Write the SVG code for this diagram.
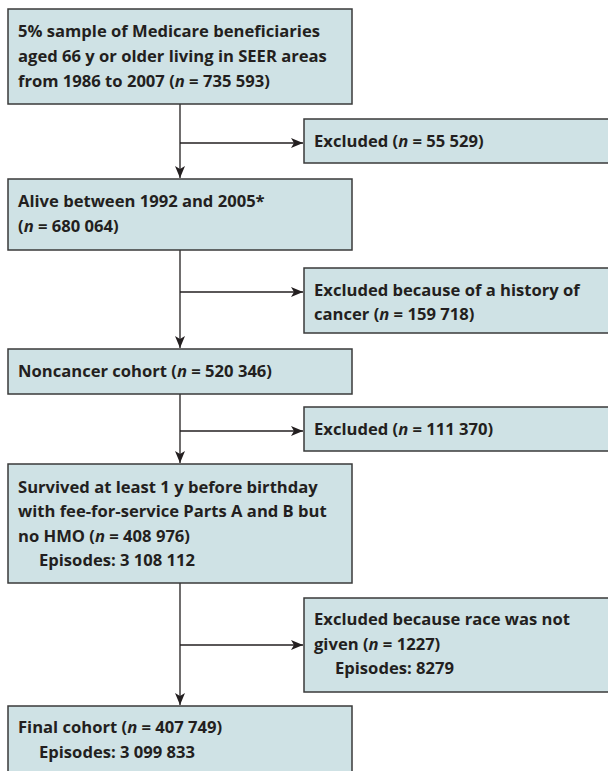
<svg xmlns="http://www.w3.org/2000/svg" width="608" height="771" viewBox="0 0 608 771">
<style>
.box{fill:#cfe2e5;stroke:#3a3a3a;stroke-width:1.5}
.t{font-family:"Open Sans","Noto Sans","Liberation Sans",sans-serif;font-weight:700;font-size:16.6px;fill:#231f20}
.c{stroke:#231f20;stroke-width:1.3;fill:none}
</style>
<defs>
<marker id="ah" viewBox="0 0 12 10" refX="12" refY="5" markerWidth="12" markerHeight="10" markerUnits="userSpaceOnUse" orient="auto">
<path d="M0,0 L12,5 L0,10 L3,5 Z" fill="#231f20"/>
</marker>
</defs>
<rect width="608" height="771" fill="#fff"/>
<g id="connectors">
<path class="c" d="M180,104 V178" marker-end="url(#ah)"/>
<path class="c" d="M180,143 H303" marker-end="url(#ah)"/>
<path class="c" d="M180,250 V348" marker-end="url(#ah)"/>
<path class="c" d="M180,292 H303" marker-end="url(#ah)"/>
<path class="c" d="M180,394 V463" marker-end="url(#ah)"/>
<path class="c" d="M180,431 H303" marker-end="url(#ah)"/>
<path class="c" d="M180,583 V705" marker-end="url(#ah)"/>
<path class="c" d="M180,645 H303" marker-end="url(#ah)"/>
</g>
<g id="n1">
<rect class="box" x="8" y="9" width="344" height="95"/>
<text class="t" x="18" y="37">5% sample of Medicare beneficiaries</text>
<text class="t" x="18" y="62">aged 66 y or older living in SEER areas</text>
<text class="t" x="18" y="87">from 1986 to 2007 (<tspan font-style="italic">n</tspan> = 735 593)</text>
</g>
<g id="e1">
<rect class="box" x="304" y="119" width="310" height="44"/>
<text class="t" x="314" y="147">Excluded (<tspan font-style="italic">n</tspan> = 55 529)</text>
</g>
<g id="n2">
<rect class="box" x="8" y="179" width="344" height="71"/>
<text class="t" x="18" y="207">Alive between 1992 and 2005*</text>
<text class="t" x="18" y="232">(<tspan font-style="italic">n</tspan> = 680 064)</text>
</g>
<g id="e2">
<rect class="box" x="304" y="268" width="310" height="65"/>
<text class="t" x="314" y="296">Excluded because of a history of</text>
<text class="t" x="314" y="320">cancer (<tspan font-style="italic">n</tspan> = 159 718)</text>
</g>
<g id="n3">
<rect class="box" x="8" y="349" width="344" height="45"/>
<text class="t" x="18" y="377">Noncancer cohort (<tspan font-style="italic">n</tspan> = 520 346)</text>
</g>
<g id="e3">
<rect class="box" x="304" y="407" width="310" height="44"/>
<text class="t" x="314" y="435">Excluded (<tspan font-style="italic">n</tspan> = 111 370)</text>
</g>
<g id="n4">
<rect class="box" x="8" y="464" width="344" height="119"/>
<text class="t" x="18" y="493">Survived at least 1 y before birthday</text>
<text class="t" x="18" y="517">with fee-for-service Parts A and B but</text>
<text class="t" x="18" y="542">no HMO (<tspan font-style="italic">n</tspan> = 408 976)</text>
<text class="t" x="39" y="566">Episodes: 3 108 112</text>
</g>
<g id="e4">
<rect class="box" x="304" y="598" width="310" height="94"/>
<text class="t" x="314" y="625">Excluded because race was not</text>
<text class="t" x="314" y="650">given (<tspan font-style="italic">n</tspan> = 1227)</text>
<text class="t" x="335" y="674">Episodes: 8279</text>
</g>
<g id="n5">
<rect class="box" x="8" y="706" width="344" height="75"/>
<text class="t" x="18" y="733">Final cohort (<tspan font-style="italic">n</tspan> = 407 749)</text>
<text class="t" x="39" y="758">Episodes: 3 099 833</text>
</g>
</svg>
